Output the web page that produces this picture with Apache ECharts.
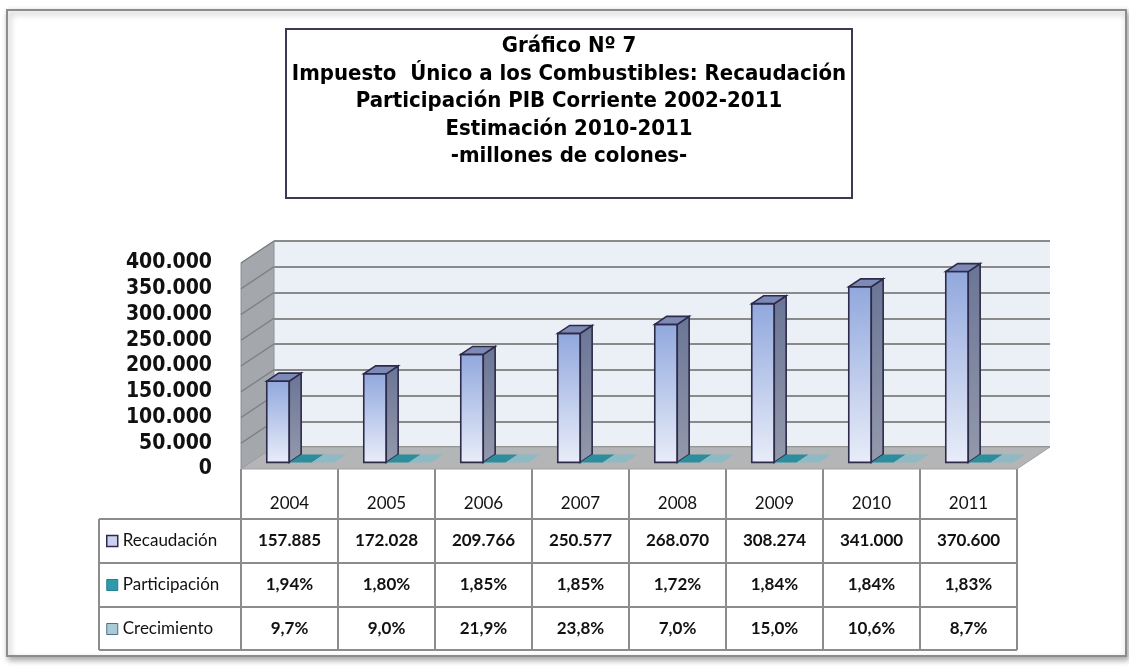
<!DOCTYPE html>
<html>
<head>
<meta charset="utf-8">
<script src="https://cdn.jsdelivr.net/npm/echarts@6/dist/echarts.min.js"></script>
<style>
  html, body { margin: 0; padding: 0; background: #fff; }
  #chart { width: 1129px; height: 666px; }
</style>
</head>
<body>
<div id="chart"></div>
<script>
// ---- data ----
var years = ['2004', '2005', '2006', '2007', '2008', '2009', '2010', '2011'];
var recaudacion = [157885, 172028, 209766, 250577, 268070, 308274, 341000, 370600];
var participacion = [1.94, 1.80, 1.85, 1.85, 1.72, 1.84, 1.84, 1.83];   // % del PIB
var crecimiento = [9.7, 9.0, 21.9, 23.8, 7.0, 15.0, 10.6, 8.7];        // %
var yTicks = [0, 50000, 100000, 150000, 200000, 250000, 300000, 350000, 400000];
var seriesNames = ['Recaudación', 'Participación', 'Crecimiento'];
var titleLines = [
  'Gráfico Nº 7',
  'Impuesto  Único a los Combustibles: Recaudación',
  'Participación PIB Corriente 2002-2011',
  'Estimación 2010-2011',
  '-millones de colones-'
];

// ---- layout ----
var FRONT = { left: 241, top: 263, width: 776, height: 206 };
var DX = 33, DY = -22;      // depth of the 3d box
var T = 0.3, BD = 0.36;     // bar position / depth as part of the box depth
var NARROW = "'Liberation Sans Narrow', 'DejaVu Sans Condensed', sans-serif";
var TABLE_FONT = "Lato, 'Noto Sans', sans-serif";

function miles(v) {
  return String(v).replace(/\B(?=(\d{3})+(?!\d))/g, '.');
}
function pct(v, d) {
  return v.toFixed(d).replace('.', ',') + '%';
}

var frontBottom = FRONT.top + FRONT.height;
var colW = FRONT.width / years.length;
var tableRight = FRONT.left + FRONT.width;
var legendLeft = 99;
var rowLines = [519, 563, 607, 650];
var lineStyle = { stroke: '#8c8c8c', lineWidth: 2 };

var tableLines = [];
for (var i = 0; i <= years.length; i++) {
  var x = FRONT.left + i * colW;
  tableLines.push({ type: 'line', shape: { x1: x, y1: frontBottom, x2: x, y2: rowLines[3] }, style: lineStyle });
}
rowLines.forEach(function (y) {
  tableLines.push({ type: 'line', shape: { x1: legendLeft, y1: y, x2: tableRight, y2: y }, style: lineStyle });
});
tableLines.push({ type: 'line', shape: { x1: legendLeft, y1: rowLines[0], x2: legendLeft, y2: rowLines[3] }, style: lineStyle });

// walls and floor of the 3d box
function renderWalls(params, api) {
  var cs = params.coordSys;
  var y = api.coord([0, api.value(1)])[1];
  var children = [];
  if (params.dataIndex === 0) {
    children.push({
      type: 'polygon',
      shape: { points: [[cs.x, cs.y + cs.height], [cs.x, cs.y], [cs.x + DX, cs.y + DY], [cs.x + DX, cs.y + cs.height + DY]] },
      style: { fill: '#a4a7ab', stroke: '#8d9094', lineWidth: 1 }
    });
    children.push({
      type: 'polygon',
      shape: { points: [[cs.x, cs.y + cs.height], [cs.x + cs.width, cs.y + cs.height],
                        [cs.x + cs.width + DX, cs.y + cs.height + DY], [cs.x + DX, cs.y + cs.height + DY]] },
      style: { fill: '#b4b5b7', stroke: '#a0a1a3', lineWidth: 1 }
    });
  } else {
    children.push({
      type: 'line',
      shape: { x1: cs.x, y1: y, x2: cs.x + DX, y2: y + DY },
      style: { stroke: '#7c7f84', lineWidth: 1.5 }
    });
  }
  return { type: 'group', children: children };
}

var barColors = [
  {
    front: new echarts.graphic.LinearGradient(0, 0, 0, 1, [{ offset: 0, color: '#91a8dd' }, { offset: 1, color: '#e9edf9' }]),
    side: new echarts.graphic.LinearGradient(0, 0, 0, 1, [{ offset: 0, color: '#6a7596' }, { offset: 1, color: '#9499ab' }]),
    top: '#7c8ab5', border: '#2d2a4a'
  },
  { front: '#2a8d9c', side: '#1f6f7b', top: '#2c8e9d', border: null },
  { front: '#8fbcc5', side: '#6e9aa3', top: '#8dbac3', border: null }
];

function renderBar(slot) {
  var col = barColors[slot];
  return function (params, api) {
    var c = api.value(0), v = api.value(1);
    var p0 = api.coord([c, 0]);
    var p1 = api.coord([c, v]);
    var band = api.size([1, 0])[0];
    var bw = band * 0.232;
    var x0 = p0[0] - 1.45 * bw + slot * bw + DX * T;
    var yb = p0[1] + DY * T;
    var yt = p1[1] + DY * T;
    var dx = DX * BD, dy = DY * BD;
    var stroke = col.border ? { stroke: col.border, lineWidth: 1.6 } : {};
    var children = [];
    if (yb - yt > 0.5) {
      children.push({ type: 'rect', shape: { x: x0, y: yt, width: bw, height: yb - yt },
        style: Object.assign({ fill: col.front }, stroke) });
      children.push({ type: 'polygon', shape: { points: [[x0 + bw, yb], [x0 + bw + dx, yb + dy], [x0 + bw + dx, yt + dy], [x0 + bw, yt]] },
        style: Object.assign({ fill: col.side }, stroke) });
    }
    children.push({ type: 'polygon', shape: { points: [[x0, yt], [x0 + bw, yt], [x0 + bw + dx, yt + dy], [x0 + dx, yt + dy]] },
      style: Object.assign({ fill: col.top }, stroke) });
    return { type: 'group', children: children };
  };
}

function rowAxis(labels, margin, weight) {
  return {
    type: 'category', gridIndex: 0, position: 'bottom', data: years,
    axisLine: { show: false }, axisTick: { show: false }, splitLine: { show: false },
    axisLabel: {
      interval: 0, margin: margin, verticalAlign: 'middle',
      formatter: function (val, idx) { return labels[idx]; },
      fontFamily: TABLE_FONT, fontSize: 17, fontWeight: weight, color: '#111'
    }
  };
}

var chart = echarts.init(document.getElementById('chart'));
chart.setOption({
  animation: false,
  backgroundColor: '#fff',
  title: {
    text: titleLines.join('\n'),
    left: 569, top: 33, textAlign: 'center', padding: 0,
    textStyle: { fontFamily: NARROW, fontWeight: 'bold', fontSize: 22, lineHeight: 27.5, color: '#000' }
  },
  legend: {
    orient: 'vertical', left: 106, top: 531, padding: 0,
    icon: 'rect', itemWidth: 11, itemHeight: 11, itemGap: 24,
    selectedMode: false,
    textStyle: { fontFamily: TABLE_FONT, fontSize: 17, color: '#111', lineHeight: 20 },
    data: [
      { name: seriesNames[0], itemStyle: { color: '#c9d0f0', borderColor: '#2d2a4a', borderWidth: 1.5 } },
      { name: seriesNames[1], itemStyle: { color: '#2f9aab', borderColor: '#267f8c', borderWidth: 1 } },
      { name: seriesNames[2], itemStyle: { color: '#a9ccd4', borderColor: '#4d6f8a', borderWidth: 1 } }
    ]
  },
  graphic: [
    { type: 'rect', z: -10, shape: { x: 7, y: 10, width: 1119, height: 646 },
      style: { fill: '#fff', stroke: '#8c8c8c', lineWidth: 2, shadowBlur: 6, shadowOffsetX: 2, shadowOffsetY: 3, shadowColor: 'rgba(0,0,0,0.35)' } },
    { type: 'rect', shape: { x: 286, y: 29, width: 566, height: 169 },
      style: { fill: 'none', stroke: '#3b3a52', lineWidth: 2 } },
    { type: 'group', children: tableLines }
  ],
  grid: [
    { left: FRONT.left, top: FRONT.top, width: FRONT.width, height: FRONT.height, show: false, outerBoundsMode: 'none' },
    { left: FRONT.left + DX, top: FRONT.top + DY, width: FRONT.width, height: FRONT.height,
      show: true, backgroundColor: '#ebf0f6', borderWidth: 0, outerBoundsMode: 'none' }
  ],
  xAxis: [
    {
      type: 'category', gridIndex: 0, position: 'bottom', data: years,
      axisLine: { show: false }, axisTick: { show: false }, splitLine: { show: false },
      axisLabel: { interval: 0, margin: 35, verticalAlign: 'middle', fontFamily: TABLE_FONT, fontSize: 17, color: '#111' }
    },
    { type: 'category', gridIndex: 1, data: years, show: false },
    rowAxis(recaudacion.map(miles), 72, 'bold'),
    rowAxis(participacion.map(function (v) { return pct(v, 2); }), 116, 'bold'),
    rowAxis(crecimiento.map(function (v) { return pct(v, 1); }), 160, 'bold')
  ],
  yAxis: [
    {
      type: 'value', gridIndex: 0, min: 0, max: 400000, interval: 50000,
      axisLine: { show: false }, axisTick: { show: false }, splitLine: { show: false },
      axisLabel: {
        margin: 29, formatter: miles, showMinLabel: true, showMaxLabel: true, hideOverlap: false,
        fontFamily: NARROW, fontWeight: 'bold', fontSize: 21, lineHeight: 22, color: '#111'
      }
    },
    {
      type: 'value', gridIndex: 1, min: 0, max: 400000, interval: 50000,
      axisLine: { show: false }, axisTick: { show: false }, axisLabel: { show: false },
      splitLine: { show: true, lineStyle: { color: '#8a8a8a', width: 2 } }
    }
  ],
  series: [
    {
      name: 'walls', type: 'custom', xAxisIndex: 0, yAxisIndex: 0, silent: true,
      renderItem: renderWalls, encode: { x: 0, y: 1 },
      data: yTicks.map(function (v) { return [0, v]; })
    },
    {
      name: seriesNames[0], type: 'custom', xAxisIndex: 0, yAxisIndex: 0,
      renderItem: renderBar(0), encode: { x: 0, y: 1 },
      itemStyle: { color: '#c9d0f0' },
      data: recaudacion.map(function (v, i) { return [i, v]; })
    },
    {
      name: seriesNames[1], type: 'custom', xAxisIndex: 0, yAxisIndex: 0,
      renderItem: renderBar(1), encode: { x: 0, y: 1 },
      itemStyle: { color: '#2f9aab' },
      data: participacion.map(function (v, i) { return [i, v / 100]; })
    },
    {
      name: seriesNames[2], type: 'custom', xAxisIndex: 0, yAxisIndex: 0,
      renderItem: renderBar(2), encode: { x: 0, y: 1 },
      itemStyle: { color: '#a9ccd4' },
      data: crecimiento.map(function (v, i) { return [i, v / 100]; })
    }
  ]
});
</script>
</body>
</html>
